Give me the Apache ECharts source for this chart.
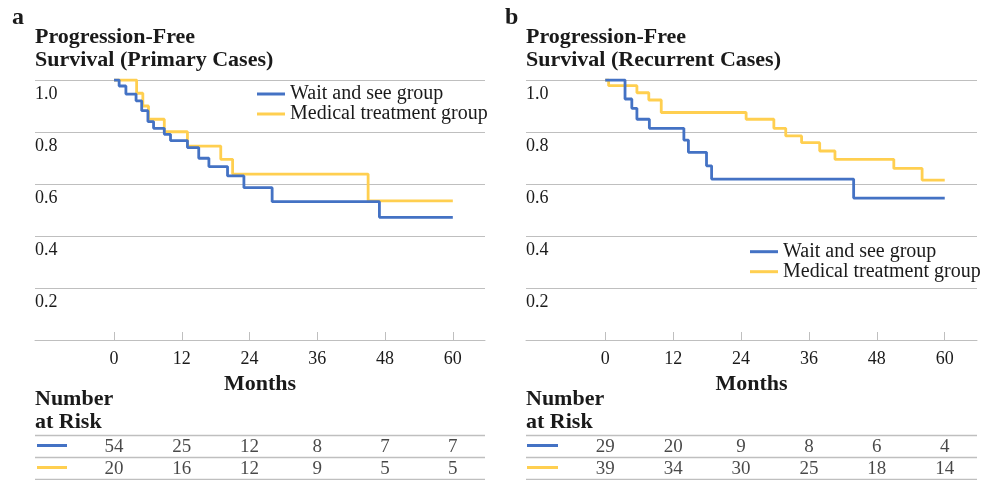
<!DOCTYPE html>
<html>
<head>
<meta charset="utf-8">
<script src="https://cdn.jsdelivr.net/npm/echarts@6/dist/echarts.min.js"></script>
<style>
html,body{margin:0;padding:0;background:#fff;}
#chart{width:993px;height:480px;}
</style>
</head>
<body>
<div id="chart"></div>
<script>
// ---- data ----
var monthTicks = [0, 12, 24, 36, 48, 60];

// Panel a: Primary cases
var aWaitMonths = [0, 0.9, 2.1, 3.9, 4.9, 6.0, 7.0, 8.9, 10.0, 13.0, 15.0, 16.8, 20.1, 23.0, 28.0, 47.0, 60];
var aWaitSurv   = [1.0, 0.977, 0.946, 0.920, 0.882, 0.840, 0.814, 0.791, 0.767, 0.740, 0.699, 0.667, 0.631, 0.586, 0.532, 0.472, 0.472];
var aMedMonths  = [0, 4.0, 5.1, 6.1, 8.9, 13.0, 18.9, 21.0, 45.0, 60];
var aMedSurv    = [1.0, 0.949, 0.900, 0.849, 0.801, 0.746, 0.695, 0.638, 0.535, 0.535];

// Panel b: Recurrent cases
var bWaitMonths = [0, 3.5, 4.7, 5.6, 7.8, 13.9, 14.7, 17.9, 18.8, 43.9, 60];
var bWaitSurv   = [1.0, 0.927, 0.891, 0.849, 0.814, 0.769, 0.722, 0.670, 0.619, 0.546, 0.546];
var bMedMonths  = [0, 0.6, 5.6, 7.7, 9.9, 24.9, 29.8, 31.9, 34.7, 37.9, 40.6, 51.0, 56.0, 60];
var bMedSurv    = [1.0, 0.978, 0.951, 0.923, 0.875, 0.849, 0.814, 0.785, 0.759, 0.727, 0.695, 0.660, 0.615, 0.615];

// Number at risk
var aRiskWait = [54, 25, 12, 8, 7, 7];
var aRiskMed  = [20, 16, 12, 9, 5, 5];
var bRiskWait = [29, 20, 9, 8, 6, 4];
var bRiskMed  = [39, 34, 30, 25, 18, 14];

var seriesNames = ['Wait and see group', 'Medical treatment group'];
var titles = ['Progression-Free\nSurvival (Primary Cases)', 'Progression-Free\nSurvival (Recurrent Cases)'];
var panelLetters = ['a', 'b'];

// ---- styling ----
var FONT = "'Liberation Serif', 'Times New Roman', serif";
var BLUE = '#4472C4';
var YELLOW = '#FFCF50';
var GRID = '#BFBFBF';
var TXT = '#1a1a1a';

function zip(xs, ys) { return xs.map(function (x, i) { return [x, ys[i]]; }); }
function riskPts(vals, row) { return vals.map(function (v, i) { return [monthTicks[i], row, v]; }); }

var panelLeft = [35, 526];
var panelWidth = [450, 451];

var grids = [], xAxes = [], yAxes = [], series = [];
[0, 1].forEach(function (p) {
  grids.push({ left: panelLeft[p], top: 80, width: panelWidth[p], height: 260 });
});
[0, 1].forEach(function (p) {
  grids.push({ left: panelLeft[p], top: 435, width: panelWidth[p], height: 44 });
});

for (var p = 0; p < 2; p++) {
  xAxes.push({
    type: 'value', gridIndex: p, min: -14, max: 65.7,
    axisLine: { show: true, lineStyle: { color: GRID, width: 1 } },
    axisTick: { show: true, inside: true, length: 8, customValues: monthTicks, lineStyle: { color: GRID } },
    axisLabel: { customValues: monthTicks, margin: 10, color: TXT, fontFamily: FONT, fontSize: 18 },
    splitLine: { show: false },
    name: 'Months', nameLocation: 'middle', nameGap: 31.5,
    nameTextStyle: { color: TXT, fontFamily: FONT, fontSize: 22, fontWeight: 'bold', lineHeight: 22 }
  });
  yAxes.push({
    type: 'value', gridIndex: p, min: 0, max: 1, interval: 0.2,
    axisLine: { show: false }, axisTick: { show: false },
    splitLine: { show: true, lineStyle: { color: GRID, width: 1 } },
    axisLabel: {
      inside: true, margin: 0, verticalAlign: 'top', lineHeight: 28,
      color: TXT, fontFamily: FONT, fontSize: 18,
      formatter: function (v) { return v === 0 ? '' : v.toFixed(1); }
    }
  });
}
for (var q = 0; q < 2; q++) {
  xAxes.push({ type: 'value', gridIndex: 2 + q, min: -14, max: 65.7, show: false });
  yAxes.push({
    type: 'value', gridIndex: 2 + q, min: 0, max: 2, interval: 1, inverse: true,
    axisLine: { show: false }, axisTick: { show: false }, axisLabel: { show: false },
    splitLine: { show: true, lineStyle: { color: GRID, width: 1.3 } }
  });
}

var curves = [
  [zip(aWaitMonths, aWaitSurv), zip(aMedMonths, aMedSurv)],
  [zip(bWaitMonths, bWaitSurv), zip(bMedMonths, bMedSurv)]
];
var risks = [[aRiskWait, aRiskMed], [bRiskWait, bRiskMed]];

for (var k = 0; k < 2; k++) {
  // medical first so wait-and-see draws on top
  series.push({
    name: seriesNames[1], type: 'line', step: 'end', xAxisIndex: k, yAxisIndex: k,
    data: curves[k][1], symbol: 'none', color: YELLOW,
    lineStyle: { color: YELLOW, width: 2.8 }, z: 2
  });
  series.push({
    name: seriesNames[0], type: 'line', step: 'end', xAxisIndex: k, yAxisIndex: k,
    data: curves[k][0], symbol: 'none', color: BLUE,
    lineStyle: { color: BLUE, width: 2.8 }, z: 3
  });
  for (var r = 0; r < 2; r++) {
    series.push({
      type: 'scatter', xAxisIndex: 2 + k, yAxisIndex: 2 + k,
      data: riskPts(risks[k][r], r + 0.5), symbolSize: 0,
      itemStyle: { color: 'transparent' },
      label: {
        show: true, position: 'inside', offset: [0, 1.5],
        formatter: function (pp) { return pp.value[2]; },
        color: TXT, fontFamily: FONT, fontSize: 19
      },
      silent: true
    });
  }
}

var titleStyle = { color: TXT, fontFamily: FONT, fontSize: 22, fontWeight: 'bold', lineHeight: 22.3 };
var titleList = [];
for (var t = 0; t < 2; t++) {
  titleList.push({ text: panelLetters[t], left: [12, 505][t], top: 6, padding: 0,
    textStyle: { color: TXT, fontFamily: FONT, fontSize: 24, fontWeight: 'bold' } });
  titleList.push({ text: titles[t], left: panelLeft[t], top: 26.5, padding: 0, textStyle: titleStyle });
  titleList.push({ text: 'Number\nat Risk', left: panelLeft[t], top: 387.5, padding: 0,
    textStyle: { color: TXT, fontFamily: FONT, fontSize: 22, fontWeight: 'bold', lineHeight: 23 } });
}

var legendStyle = { color: TXT, fontFamily: FONT, fontSize: 20, lineHeight: 20 };
var legends = [
  { left: 257, top: 84, orient: 'vertical', padding: 0, itemGap: 0, itemWidth: 28, itemHeight: 3,
    icon: 'rect', data: seriesNames, textStyle: legendStyle, selectedMode: false },
  { left: 750, top: 241.7, orient: 'vertical', padding: 0, itemGap: 0, itemWidth: 28, itemHeight: 3,
    icon: 'rect', data: seriesNames, textStyle: legendStyle, selectedMode: false }
];

// little line keys in the number-at-risk tables
var keyGraphics = [];
[[37, 67], [527, 558]].forEach(function (xs) {
  keyGraphics.push({ type: 'line', shape: { x1: xs[0], y1: 445.5, x2: xs[1], y2: 445.5 }, style: { stroke: BLUE, lineWidth: 3 } });
  keyGraphics.push({ type: 'line', shape: { x1: xs[0], y1: 467.5, x2: xs[1], y2: 467.5 }, style: { stroke: YELLOW, lineWidth: 3 } });
});

var chart = echarts.init(document.getElementById('chart'), null, { renderer: 'canvas' });
chart.setOption({
  animation: false,
  backgroundColor: '#ffffff',
  title: titleList,
  legend: legends,
  grid: grids,
  xAxis: xAxes,
  yAxis: yAxes,
  series: series,
  graphic: keyGraphics
});
</script>
</body>
</html>
